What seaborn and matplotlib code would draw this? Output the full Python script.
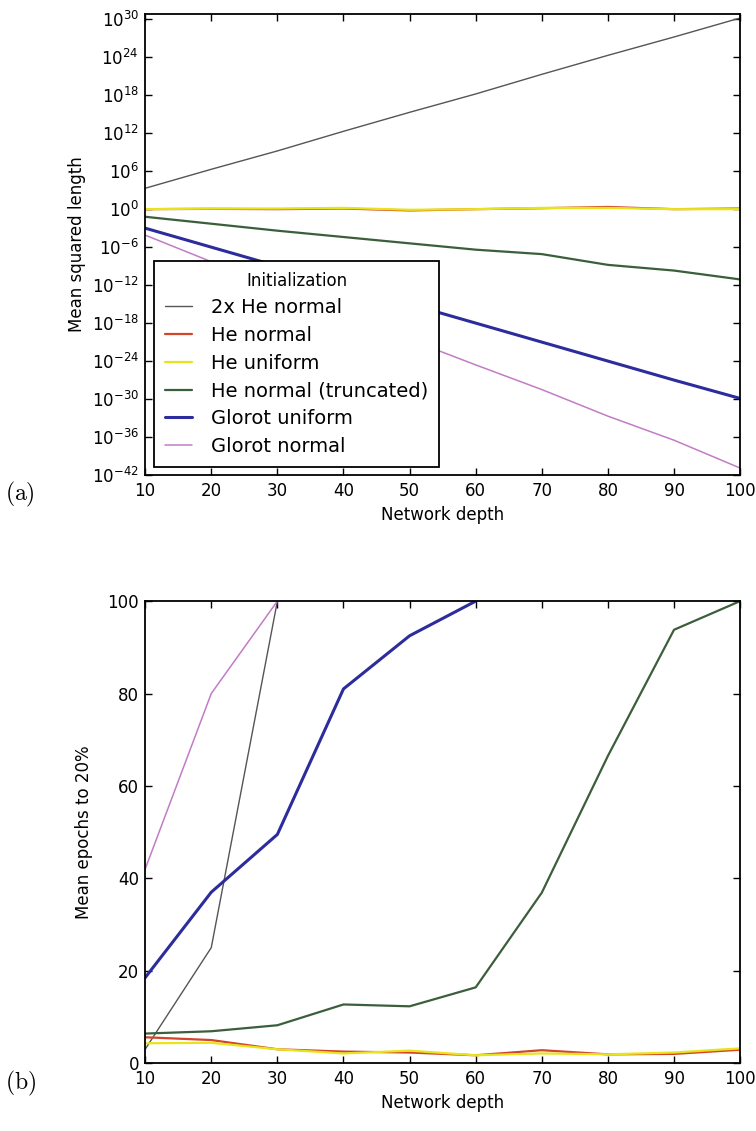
import numpy as np
import pandas as pd
import matplotlib
matplotlib.use("Agg")
import matplotlib.pyplot as plt
import seaborn as sns
from matplotlib.ticker import FixedLocator, FuncFormatter, NullLocator

# ---------------- data ----------------
depths = [10, 20, 30, 40, 50, 60, 70, 80, 90, 100]
inits = ["2x He normal", "He normal", "He uniform", "He normal (truncated)",
         "Glorot uniform", "Glorot normal"]
colors = ["#555555", "#d2452a", "#e8e41c", "#3b5e3b", "#2c2c9c", "#c27cc6"]
widths = [1.0, 1.6, 1.6, 1.6, 2.2, 1.1]

# (a) log10 of mean squared length
log_len_2x_he_normal = [3.3, 6.3, 9.2, 12.3, 15.3, 18.2, 21.3, 24.3, 27.2, 30.2]
log_len_he_normal = [0.0, 0.05, 0.0, 0.1, -0.2, 0.0, 0.15, 0.35, 0.0, 0.1]
log_len_he_uniform = [0.0, 0.1, 0.1, 0.2, -0.1, 0.0, 0.2, 0.2, 0.0, 0.0]
log_len_he_trunc = [-1.2, -2.3, -3.4, -4.4, -5.4, -6.4, -7.1, -8.8, -9.7, -11.1]
log_len_glorot_uniform = [-3.0, -6.0, -9.0, -12.1, -15.0, -18.0, -21.0, -24.0, -27.0, -29.9]
log_len_glorot_normal = [-4.1, -8.3, -12.4, -16.4, -20.6, -24.6, -28.5, -32.7, -36.5, -40.9]

# (b) mean epochs to 20%
ep_2x_he_normal = [3.0, 25.0, 100.0]
ep_he_normal = [5.6, 5.0, 3.0, 2.5, 2.3, 1.7, 2.8, 1.9, 2.0, 2.9]
ep_he_uniform = [4.3, 4.4, 3.0, 2.1, 2.7, 1.7, 2.1, 1.9, 2.3, 3.2]
ep_he_trunc = [6.4, 6.9, 8.2, 12.7, 12.3, 16.4, 36.9, 66.5, 93.8, 100.0]
ep_glorot_uniform = [18.5, 37.0, 49.5, 81.0, 92.5, 100.0]
ep_glorot_normal = [42.0, 80.0, 100.0]

ytick_exps = [-42, -36, -30, -24, -18, -12, -6, 0, 6, 12, 18, 24, 30]

# ---------------- frames ----------------
len_series = [log_len_2x_he_normal, log_len_he_normal, log_len_he_uniform,
              log_len_he_trunc, log_len_glorot_uniform, log_len_glorot_normal]
rows = []
for name, vals in zip(inits, len_series):
    for d, v in zip(depths, vals):
        rows.append({"Network depth": d, "Mean squared length": 10.0 ** v,
                     "Initialization": name})
df_len = pd.DataFrame(rows)

ep_series = [ep_2x_he_normal, ep_he_normal, ep_he_uniform, ep_he_trunc,
             ep_glorot_uniform, ep_glorot_normal]
rows = []
for name, vals in zip(inits, ep_series):
    for d, v in zip(depths, vals):
        rows.append({"Network depth": d, "Mean epochs to 20%": v,
                     "Initialization": name})
df_ep = pd.DataFrame(rows)

# ---------------- style ----------------
sns.set_style("ticks")
plt.rcParams.update({
    "font.family": ["DejaVu Sans"],
    "xtick.direction": "in", "ytick.direction": "in",
    "xtick.top": True, "ytick.right": True,
    "xtick.major.size": 5, "ytick.major.size": 5,
    "xtick.major.width": 1.0, "ytick.major.width": 1.0,
    "xtick.major.pad": 5, "ytick.major.pad": 4.5,
    "axes.linewidth": 1.3, "axes.edgecolor": "black",
    "axes.labelcolor": "black", "text.color": "black",
    "xtick.color": "black", "ytick.color": "black",
    "mathtext.fontset": "dejavusans",
})

palette = dict(zip(inits, colors))

fig = plt.figure(figsize=(7.56, 11.31), dpi=100)
ax1 = fig.add_axes([0.192, 0.580, 0.787, 0.408])
ax2 = fig.add_axes([0.192, 0.060, 0.787, 0.4085])

# ---------------- (a) ----------------
ax1.set_yscale("log")
sns.lineplot(data=df_len, x="Network depth", y="Mean squared length",
             hue="Initialization", hue_order=inits, palette=palette,
             ax=ax1, legend=True)
for line, lw in zip(ax1.get_lines(), widths):
    line.set_linewidth(lw)
ax1.set_xlim(10, 100)
ax1.set_ylim(1e-42, 10.0 ** 30.9)
ax1.set_xticks(depths)
ax1.yaxis.set_major_locator(FixedLocator([10.0 ** e for e in ytick_exps]))
ax1.yaxis.set_minor_locator(NullLocator())
ax1.yaxis.set_major_formatter(FuncFormatter(
    lambda v, p: r"$10^{%d}$" % int(round(np.log10(v)))))
ax1.tick_params(labelsize=12)
ax1.set_xlabel("Network depth", fontsize=12)
ax1.set_ylabel("Mean squared length", fontsize=12)

handles, labels = ax1.get_legend_handles_labels()
for h, lw in zip(handles, widths):
    h.set_linewidth(lw)
leg = ax1.legend(handles, labels, title="Initialization", loc="lower left",
                 bbox_to_anchor=(0.015, 0.018), borderaxespad=0,
                 fontsize=14, title_fontsize=12, frameon=True, fancybox=False,
                 edgecolor="black", handlelength=1.4, handletextpad=1.0,
                 labelspacing=0.45, borderpad=0.55)
leg.get_frame().set_linewidth(1.3)
leg.get_frame().set_alpha(1)

# ---------------- (b) ----------------
sns.lineplot(data=df_ep, x="Network depth", y="Mean epochs to 20%",
             hue="Initialization", hue_order=inits, palette=palette,
             ax=ax2, legend=False)
for line, lw in zip(ax2.get_lines(), widths):
    line.set_linewidth(lw)
ax2.set_xlim(10, 100)
ax2.set_ylim(0, 100)
ax2.set_xticks(depths)
ax2.set_yticks([0, 20, 40, 60, 80, 100])
ax2.tick_params(labelsize=12)
ax2.set_xlabel("Network depth", fontsize=12)
ax2.set_ylabel("Mean epochs to 20%", fontsize=12, labelpad=10)

# panel labels
fig.text(0.006, 0.563, r"$\mathrm{(a)}$", fontsize=17, math_fontfamily="cm",
         ha="left", va="center")
fig.text(0.006, 0.042, r"$\mathrm{(b)}$", fontsize=17, math_fontfamily="cm",
         ha="left", va="center")

fig.savefig("out.png", dpi=100)
